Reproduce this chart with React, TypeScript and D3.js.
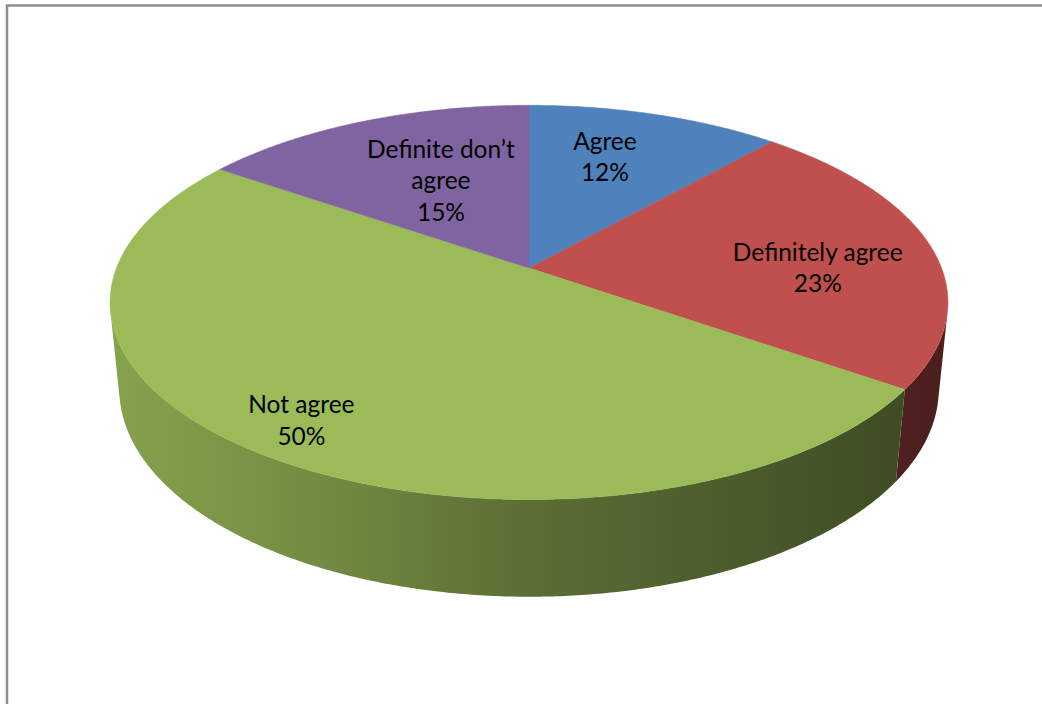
import React from "react";
import * as d3 from "d3";

const categories = ["Agree", "Definitely agree", "Not agree", "Definite don’t agree"];
const values = [11.6, 23.1, 49.9, 15.4];
const colors = ["#4F81BD", "#C0504D", "#9BBB59", "#8064A2"];
const labelRadius = [0.68, 0.7, 0.85, 0.55];
const labelFraction = [0.42, 0.58, 0.5, 0.55];

const W = 1042;
const H = 704;
const CX = 529;
const CY = 268;
const ALPHA = (27.6 * Math.PI) / 180;
const F = 2094;
const R = 0.197;
const T = 0.0471;

function project(theta: number, r: number, h: number): [number, number] {
  const u = r * Math.sin(theta);
  const v = r * Math.cos(theta);
  const depth = 1 + v * Math.cos(ALPHA) - h * Math.sin(ALPHA);
  const up = h * Math.cos(ALPHA) + v * Math.sin(ALPHA);
  return [CX + (F * u) / depth, CY - (F * up) / depth];
}

function arcPoints(a0: number, a1: number, r: number, h: number): [number, number][] {
  const n = Math.max(2, Math.ceil(Math.abs(a1 - a0) / (Math.PI / 360)));
  const pts: [number, number][] = [];
  for (let i = 0; i <= n; i++) {
    const a = a0 + ((a1 - a0) * i) / n;
    pts.push(project(a, r, h));
  }
  return pts;
}

const line = d3.line<[number, number]>().x((d) => d[0]).y((d) => d[1]);

const shadeOffsets = [0, 0.227, 0.5, 0.764, 1];
const shadeFactors = [0.87, 0.76, 0.59, 0.48, 0.38];

function wrapLabel(s: string): string[] {
  if (s.length <= 18) return [s];
  const i = s.lastIndexOf(" ");
  return [s.slice(0, i), s.slice(i + 1)];
}

export default function App() {
  const pie = d3
    .pie<number>()
    .sort(null)
    .startAngle(0)
    .endAngle(2 * Math.PI);
  const arcs = pie(values);
  const total = d3.sum(values);

  const thL = Math.acos(-R / Math.cos(ALPHA));
  const thR = 2 * Math.PI - thL;

  const [xL] = project(thR, R, 0);
  const [xR] = project(thL, R, 0);

  const sides = arcs
    .map((a, i) => {
      const s = Math.max(a.startAngle, thL);
      const e = Math.min(a.endAngle, thR);
      if (e <= s) return null;
      const top = arcPoints(s, e, R, 0);
      const bot = arcPoints(e, s, R, -T);
      return { i, d: line([...top, ...bot]) + "Z" };
    })
    .filter(Boolean) as { i: number; d: string }[];

  const tops = arcs.map((a, i) => {
    const pts = [project(0, 0, 0), ...arcPoints(a.startAngle, a.endAngle, R, 0)];
    return { i, d: line(pts) + "Z" };
  });

  const fontSize = 24.5;
  const lh = 31.5;
  const cap = 17.5;

  return (
    <svg
      width={W}
      height={H}
      style={{ position: "absolute", left: 0, top: 0, display: "block" }}
    >
      <defs>
        {colors.map((c, i) => (
          <linearGradient
            key={i}
            id={"side" + i}
            gradientUnits="userSpaceOnUse"
            x1={xL - 10}
            x2={xR + 10}
            y1={0}
            y2={0}
          >
            {shadeOffsets.map((o, j) => {
              const rgb = d3.rgb(c);
              const f = shadeFactors[j];
              const col = d3.rgb(rgb.r * f, rgb.g * f, rgb.b * f).formatHex();
              return <stop key={j} offset={o} stopColor={col} />;
            })}
          </linearGradient>
        ))}
      </defs>
      <rect x={0} y={0} width={W} height={H} fill="#ffffff" />
      <rect
        x={7}
        y={5.5}
        width={1200}
        height={900}
        fill="none"
        stroke="#8e8e8e"
        strokeWidth={2.5}
      />
      {sides.map((s) => (
        <path key={"s" + s.i} d={s.d} fill={`url(#side${s.i})`} />
      ))}
      {tops.map((t) => (
        <path key={"t" + t.i} d={t.d} fill={colors[t.i]} stroke={colors[t.i]} strokeWidth={0.5} />
      ))}
      {arcs.map((a, i) => {
        const ang = a.startAngle + (a.endAngle - a.startAngle) * labelFraction[i];
        const [x, y] = project(ang, R * labelRadius[i], 0);
        const lines = [...wrapLabel(categories[i]), `${Math.round((values[i] / total) * 100)}%`];
        const first = y - ((lines.length - 1) * lh) / 2 + cap / 2;
        return (
          <text
            key={"l" + i}
            x={x}
            textAnchor="middle"
            fontFamily="Lato, 'Open Sans', sans-serif"
            fontSize={fontSize}
            fill="#000000"
          >
            {lines.map((l, j) => (
              <tspan key={j} x={x} y={first + j * lh}>
                {l}
              </tspan>
            ))}
          </text>
        );
      })}
    </svg>
  );
}
